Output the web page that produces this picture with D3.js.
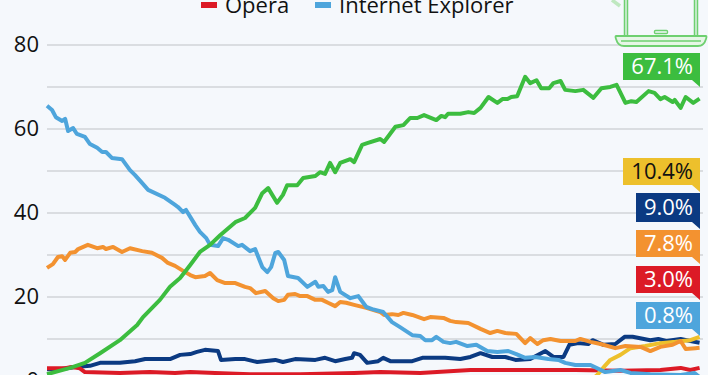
<!DOCTYPE html>
<html>
<head>
<meta charset="utf-8">
<script src="https://cdn.jsdelivr.net/npm/d3@7"></script>
<style>
  html, body { margin: 0; padding: 0; background: #f5f8fc; overflow: hidden; }
  svg { display: block; font-family: "Open Sans", sans-serif; }
</style>
</head>
<body>
<svg id="chart" width="708" height="375"></svg>
<script>
// values, x = months since the start of the series
const chromeMonths = [0,5.5,9,12.6,17.3,21.4,22.8,26.8,29.2,31.6,34,36.3,38.7,41.1,44.7,47,49.4,51.1,52.5,54.6,56,57,59.4,60.8,63.7,64.8,66,67.2,68.4,69.6,72,72.9,74.8,76,79.1,80,82.7,84.6,86.2,87.9,89.5,92.4,93.6,94.5,95.2,98.1,100,101.4,102.9,104.8,106.9,108.1,109.3,110.2,111.6,113.5,114.7,116.2,117.3,119.2,120.2,121.9,123,125.4,127.3,129.7,131.6,133.7,135.2,137.3,138.7,139.9,142.8,144.2,145.6,146.6,148.5,149,150.4,151.6,153.4,154.9];
const chromeValues = [1.5,3,4.2,6.5,9.6,13.2,15.1,19.2,22.3,24.4,27.5,30.6,32.3,34.6,37.7,38.7,41.1,44.6,45.8,42.3,44.2,46.5,46.5,48.2,48.7,49.6,49.2,51.8,49.6,51.8,52.7,52,56.1,56.5,57.5,56.8,60.4,60.8,62.5,62.5,63.2,62,63,62.7,63.5,63.5,63.9,63.7,64.9,67.5,66.1,67,67,67.5,67.7,72.3,70.8,71.5,69.6,69.6,70.8,71.3,69.2,68.9,69.2,67.3,69.6,69.9,70.4,66.1,66.5,66.3,68.9,68.5,67,67.5,66.3,66.8,64.9,67.5,66.1,67.1];

const ieMonths = [0,1.2,2.1,3.6,4.3,5,6.2,7.1,9,10.2,11.9,13.1,14,15.4,17.8,19.7,20.9,22.6,24,28,30.4,31.1,32.3,33,35.2,36.3,37.8,38.7,40.6,41.8,43,45.4,46.3,48.2,49.4,51.1,52.3,53.2,54.2,54.9,56.3,57.2,59.6,61.8,63.7,64.4,65.6,66.7,67.7,68.4,69.6,72,73.9,75.8,77.2,79.8,81.9,83.8,86.7,88.6,89.8,91.4,92.4,94.1,95.7,97.1,99.8,101.9,104.5,106.9,109.5,111.4,113.5,115.9,119,121.4,123,125.4,129,132.5,136.1,138.5,143.2,150.4,153.7,154.9];
const ieValues = [65.4,64.4,62.7,61.8,62.3,59.4,60.1,58.7,58,56.3,55.4,54.4,54.4,53,52.7,50.1,48.9,47,45.4,43.5,41.8,41.3,40.1,40.6,37,35.4,33.9,32.3,32,33.9,33.5,32,32.3,30.8,31.3,27,25.8,27,30.4,30.6,28.7,24.9,24.4,22.3,23.5,22.3,22.5,21.1,21.5,24.6,21.1,19.6,20.1,17.5,17,16.3,13.9,12.7,10.8,10.6,9.6,9.6,10.4,9.2,8.9,9.2,8.2,8.5,7,6.8,7,6.3,5.4,5.6,5.1,4.9,4.2,3.7,3.7,2,2.5,1.8,1.5,1.3,1.8,0.8];

const firefoxMonths = [0,1.4,2.6,3.6,4.3,5.5,6.7,7.4,9.7,11.9,13.3,14,15.7,17.8,19.7,22.6,24.9,27.3,28.7,30.4,32.3,34,35.2,37.5,38.7,40.4,42.3,44.7,47,48.2,49.6,51.8,53.7,54.9,56.3,57.2,58.9,60.1,61.8,63.7,65.3,66.7,68.4,69.6,71,72.9,75.8,79.1,80,81.9,83.4,84.6,86.7,89.5,91,94.1,95.7,97.1,100,102.9,105.2,106.9,108.8,111.4,113.5,114.7,116.4,117.8,119.5,121.9,125.4,126.6,129,131.4,134.9,137.3,140.9,143.2,145.6,148.5,150.4,151.6,153.9,154.9];
const firefoxValues = [26.8,27.7,29.4,29.6,28.7,30.4,30.6,31.3,32.3,31.5,31.8,31.3,31.8,30.6,31.5,30.8,30.4,29.2,28,27.3,26.1,25.1,24.6,24.9,25.6,23.9,23.2,23.2,22.3,22,20.8,21.3,19.6,18.9,19.2,20.4,20.6,20.1,20.1,19.2,19.2,18.5,17.7,18.7,18.5,18,17.3,16.3,15.6,15.8,15.6,16.1,15.6,14.6,15.1,14.9,14.2,13.9,13.7,12.3,11.3,11.8,11.3,11.1,8.9,10.1,8.7,9.6,9.9,9.4,9.4,9.9,9.2,8.7,7.7,8.2,8,7,8,8.5,9.4,7.5,7.7,7.8];

const safariMonths = [0,3.1,6.7,10.2,12.6,17.3,20.9,23.3,29.2,31.6,34,35.6,37.5,40.6,41.3,44.7,47,49.9,54.2,56,58.9,63.7,66,68.4,70.8,72.4,72.9,74.3,76,78.6,79.8,81.5,86.7,89.1,94.5,98.1,100.5,102.9,105.7,108.8,111.2,114.7,118.3,120.2,122.6,124,126.1,128.5,129.5,132.1,134.9,137.1,139,143.2,145.1,147,150.4,152.7,154.9];
const safariValues = [2.7,2.7,3.2,3.5,4.2,4.2,4.6,5.1,5.1,6.1,6.3,6.8,7.3,7,4.9,5.1,5.1,4.4,4.9,4.4,5.1,4.9,5.4,4.6,5.1,5.4,6.5,6.1,4.2,4.6,5.4,4.6,4.6,5.4,5.4,5.1,5.6,6.5,5.6,5.6,4.9,5.1,7,5.6,5.6,8.5,8.9,8.7,9.6,8.5,8.7,10.4,10.4,9.6,9.9,9.4,9.9,9.4,9];

const edgeMonths = [129,130.6,132,133.7,136.1,138.5,142,145.6,149.2,152.7,154.9];
const edgeValues = [0,1.3,3,4.9,6.1,7.7,8.2,8.9,9.2,9.6,10.4];

const operaMonths = [0,4.3,5.9,7.8,9,17.3,24.4,30.4,34,39.9,48.2,60.1,72.9,79.1,88.6,100.5,109.9,114.7,125.4,136.1,145.6,150.4,152.7,154.9];
const operaValues = [2.9,2.9,3.2,2.9,2,1.8,2,1.8,2,1.8,1.5,1.5,1.8,2,1.8,2.5,2.5,2.5,2.5,2.3,2.5,3,2.5,3];

const yTicks = [0,10,20,30,40,50,60,70,80];
const yLabels = [0,20,40,60,80];

// bottom to top, same order the lines overlap in the picture
const series = [
  { months: safariMonths, values: safariValues, color: '#0b3a82' },
  { months: operaMonths, values: operaValues, color: '#dc1a26' },
  { months: edgeMonths, values: edgeValues, color: '#edc02c' },
  { months: firefoxMonths, values: firefoxValues, color: '#f39230' },
  { months: ieMonths, values: ieValues, color: '#4ea5dc' },
  { months: chromeMonths, values: chromeValues, color: '#3cbd3f' }
];

const endFlags = [
  { text: '67.1%', color: '#3cbd3f', textColor: '#fff', left: 623, top: 53, h: 27 },
  { text: '10.4%', color: '#edc02c', textColor: '#111', left: 623, top: 158, h: 27 },
  { text: '9.0%', color: '#0b3a82', textColor: '#fff', left: 636, top: 193, h: 29 },
  { text: '7.8%', color: '#f39230', textColor: '#fff', left: 636, top: 230, h: 27 },
  { text: '3.0%', color: '#dc1a26', textColor: '#fff', left: 636, top: 266, h: 27 },
  { text: '0.8%', color: '#4ea5dc', textColor: '#fff', left: 636, top: 302, h: 27 }
];

const svg = d3.select('#chart');
const x = d3.scaleLinear().domain([0, 155]).range([47, 700]);
const y = d3.scaleLinear().domain([0, 80]).range([380.5, 44.5]);

// grid
const yAxis = d3.axisLeft(y)
  .tickValues(yTicks)
  .tickSize(-656)
  .tickFormat(d => yLabels.includes(d) ? d : '');
const axisG = svg.append('g').attr('transform', 'translate(47,0)').call(yAxis);
axisG.select('.domain').remove();
axisG.selectAll('line').attr('stroke', '#bfc2c6').attr('stroke-width', 1.2);
axisG.selectAll('text')
  .attr('x', -8)
  .attr('font-size', 22)
  .attr('fill', '#111')
  .attr('font-family', '"Open Sans", sans-serif');

// lines
const line = d3.line().x(d => x(d[0])).y(d => y(d[1]));
svg.selectAll('path.browser')
  .data(series)
  .enter()
  .append('path')
  .attr('class', 'browser')
  .attr('fill', 'none')
  .attr('stroke', d => d.color)
  .attr('stroke-width', 4)
  .attr('stroke-linejoin', 'round')
  .attr('d', d => line(d3.zip(d.months, d.values)));

// legend, the top of it is cut off by the picture edge
const legend = svg.append('g');
legend.append('rect').attr('x', 201).attr('y', 2).attr('width', 16).attr('height', 6).attr('fill', '#dc1a26');
legend.append('text').attr('x', 225).attr('y', 13).attr('font-size', 22).attr('fill', '#111').text('Opera');
legend.append('rect').attr('x', 315).attr('y', 2).attr('width', 16).attr('height', 6).attr('fill', '#4ea5dc');
legend.append('text').attr('x', 339).attr('y', 13).attr('font-size', 22).attr('fill', '#111').text('Internet Explorer');

// laptop icon
const icon = svg.append('g').attr('fill', 'none').attr('stroke', '#6ed070');
icon.append('path').attr('d', 'M612,0L620,6').attr('stroke', '#bfe8c0').attr('stroke-width', 3.5);
icon.append('path').attr('d', 'M626,0V36M696,0V36').attr('stroke-width', 4.5);
icon.append('path').attr('d', 'M626,0V36M696,0V36').attr('stroke', '#f5f8fc').attr('stroke-width', 1.2);
icon.append('rect').attr('x', 654.5).attr('y', 30.5).attr('width', 13).attr('height', 3).attr('rx', 1).attr('stroke-width', 1.4);
icon.append('path')
  .attr('d', 'M616,36H706Q707,36 706,39Q704,46 698,46H624Q618,46 616,39Q615,36 616,36Z')
  .attr('fill', '#e6f6e6')
  .attr('stroke-width', 1.8);
icon.append('path').attr('d', 'M621,41H701').attr('stroke-width', 1.6);

// end value flags
const flags = svg.selectAll('g.flag').data(endFlags).enter().append('g').attr('class', 'flag');
flags.append('path')
  .attr('fill', d => d.color)
  .attr('d', d => {
    const b = d.top + d.h;
    return `M${d.left},${d.top}H700V${b + 7}L692,${b}H${d.left}Z`;
  });
flags.append('text')
  .attr('x', 693)
  .attr('y', d => d.top + d.h / 2 + 7.5)
  .attr('text-anchor', 'end')
  .attr('font-size', 22)
  .attr('font-weight', 500)
  .attr('fill', d => d.textColor)
  .text(d => d.text);
</script>
</body>
</html>
